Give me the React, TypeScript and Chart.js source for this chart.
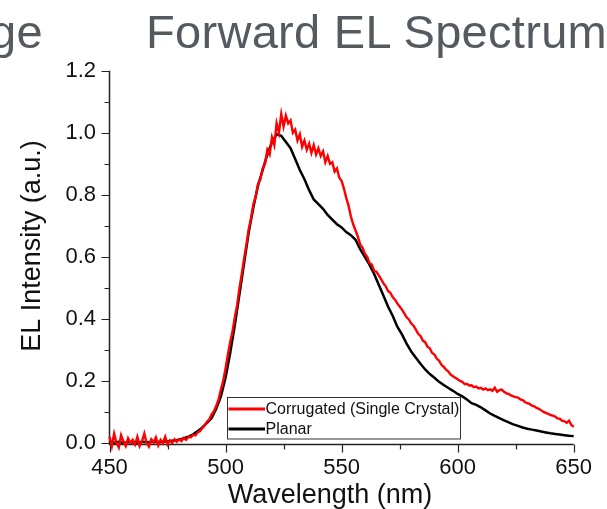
import React, { useEffect, useRef } from 'react';
import { Chart, registerables } from 'chart.js';

Chart.register(...registerables);

const FONT = "'Liberation Sans', Arial, Helvetica, sans-serif";

const chartTitle = 'Forward EL Spectrum';
const cutTitle = 'ge';
const xTitle = 'Wavelength (nm)';
const yTitle = 'EL Intensity (a.u.)';
const seriesLabels = ['Corrugated (Single Crystal)', 'Planar'];
const seriesColors = ['#ff0000', '#000000'];

const xMajorTicks = [450, 500, 550, 600, 650];
const xMinorTicks = [475, 525, 575, 625];
const yMajorTicks = [0, 0.2, 0.4, 0.6, 0.8, 1.0, 1.2];
const yMinorTicks = [0.1, 0.3, 0.5, 0.7, 0.9, 1.1];

// wavelength grid (nm)
const corrugatedWavelengths = Array.from({ length: 201 }, (_, i) => 450 + i);
const corrugated = [
  0.02, -0.01, 0.03, 0.0, -0.015, 0.025, 0.005, -0.01, 0.015, 0.0,
  0.01, -0.005, 0.02, -0.01, 0.005, 0.03, 0.0, -0.012, 0.012, 0.002,
  0.018, -0.008, 0.01, 0.0, 0.02, -0.005, 0.008, 0.0, 0.012, 0.004,
  0.012, 0.006, 0.016, 0.01, 0.02, 0.018, 0.026, 0.024, 0.034, 0.038,
  0.048, 0.056, 0.068, 0.076, 0.092, 0.102, 0.12, 0.14, 0.172, 0.2,
  0.24, 0.285, 0.325, 0.36, 0.405, 0.445, 0.5, 0.545, 0.595, 0.64,
  0.69, 0.725, 0.77, 0.795, 0.835, 0.85, 0.885, 0.9, 0.945, 0.93,
  0.985, 0.96, 1.03, 1.0, 1.06, 1.02, 1.055, 1.03, 1.04, 1.0,
  1.01, 0.975, 0.995, 0.955, 0.975, 0.945, 0.965, 0.935, 0.96, 0.93,
  0.95, 0.925, 0.94, 0.905, 0.925, 0.9, 0.905, 0.875, 0.885, 0.855,
  0.845, 0.82, 0.79, 0.765, 0.73, 0.705, 0.685, 0.665, 0.64, 0.63,
  0.61, 0.6, 0.58, 0.575, 0.555, 0.552, 0.54, 0.528, 0.515, 0.505,
  0.49, 0.484, 0.47, 0.462, 0.45, 0.44, 0.43, 0.418, 0.405, 0.398,
  0.385, 0.378, 0.365, 0.352, 0.345, 0.33, 0.325, 0.31, 0.305, 0.29,
  0.285, 0.272, 0.265, 0.252, 0.245, 0.236, 0.23, 0.22, 0.215, 0.21,
  0.205, 0.2, 0.197, 0.19, 0.19, 0.185, 0.186, 0.18, 0.182, 0.176,
  0.178, 0.172, 0.176, 0.17, 0.173, 0.168, 0.178, 0.165, 0.17, 0.172,
  0.165, 0.16, 0.158, 0.153, 0.15, 0.148, 0.146, 0.14, 0.138, 0.132,
  0.128, 0.126, 0.12, 0.118, 0.113, 0.11, 0.105, 0.1, 0.097, 0.094,
  0.09, 0.088, 0.085, 0.079, 0.078, 0.072, 0.07, 0.065, 0.072, 0.058,
  0.052,
];

const planarWavelengths = Array.from({ length: 101 }, (_, i) => 450 + 2 * i);
const planar = [
  0.003, 0.001, 0.004, 0.0, 0.002, 0.003, 0.001, 0.004, 0.002, 0.003,
  0.004, 0.003, 0.005, 0.006, 0.008, 0.01, 0.015, 0.02, 0.028, 0.038,
  0.05, 0.065, 0.08, 0.11, 0.15, 0.21, 0.29, 0.38, 0.48, 0.58,
  0.68, 0.76, 0.83, 0.88, 0.93, 0.97, 0.995, 0.99, 0.97, 0.95,
  0.915, 0.88, 0.85, 0.815, 0.785, 0.77, 0.755, 0.735, 0.72, 0.705,
  0.695, 0.68, 0.67, 0.655, 0.625, 0.6, 0.575, 0.545, 0.51, 0.475,
  0.44, 0.41, 0.375, 0.35, 0.32, 0.295, 0.275, 0.255, 0.237, 0.222,
  0.21, 0.197, 0.187, 0.177, 0.168, 0.158, 0.15, 0.14, 0.128, 0.123,
  0.115, 0.105, 0.095, 0.087, 0.08, 0.073, 0.066, 0.06, 0.055, 0.05,
  0.046, 0.043, 0.04, 0.037, 0.034, 0.031, 0.029, 0.027, 0.025, 0.023,
  0.022,
];

const axesPlugin = {
  id: 'customAxes',
  beforeDatasetsDraw(chart: any) {
    const { ctx, chartArea } = chart;
    const xs = chart.scales.x;
    const ys = chart.scales.y;
    ctx.save();
    ctx.strokeStyle = '#222';
    ctx.lineWidth = 1.5;
    ctx.beginPath();
    ctx.moveTo(chartArea.left, ys.getPixelForValue(1.2));
    ctx.lineTo(chartArea.left, chartArea.bottom);
    ctx.lineTo(xs.getPixelForValue(650), chartArea.bottom);
    ctx.stroke();
    ctx.lineWidth = 1.2;
    ctx.beginPath();
    yMajorTicks.forEach((v) => {
      const p = Math.round(ys.getPixelForValue(v)) + 0.5;
      ctx.moveTo(chartArea.left - 8, p);
      ctx.lineTo(chartArea.left, p);
    });
    yMinorTicks.forEach((v) => {
      const p = Math.round(ys.getPixelForValue(v)) + 0.5;
      ctx.moveTo(chartArea.left - 5, p);
      ctx.lineTo(chartArea.left, p);
    });
    xMajorTicks.forEach((v) => {
      const p = Math.round(xs.getPixelForValue(v)) + 0.5;
      ctx.moveTo(p, chartArea.bottom);
      ctx.lineTo(p, chartArea.bottom + 8);
    });
    xMinorTicks.forEach((v) => {
      const p = Math.round(xs.getPixelForValue(v)) + 0.5;
      ctx.moveTo(p, chartArea.bottom);
      ctx.lineTo(p, chartArea.bottom + 5);
    });
    ctx.stroke();

    // axis titles
    ctx.fillStyle = '#111';
    ctx.font = `27px ${FONT}`;
    ctx.textAlign = 'center';
    ctx.textBaseline = 'alphabetic';
    ctx.fillText(xTitle, 330, 503);
    ctx.translate(40, 246);
    ctx.rotate(-Math.PI / 2);
    ctx.fillText(yTitle, 0, 0);
    ctx.restore();
  },
  afterDatasetsDraw(chart: any) {
    const { ctx } = chart;
    ctx.save();
    const bx = 227.5, by = 397.5, bw = 233, bh = 41.5;
    ctx.fillStyle = '#fff';
    ctx.fillRect(bx, by, bw, bh);
    ctx.strokeStyle = '#333';
    ctx.lineWidth = 1;
    ctx.strokeRect(bx, by, bw, bh);
    const rows = [409, 429];
    ctx.font = `16px ${FONT}`;
    ctx.textAlign = 'left';
    ctx.textBaseline = 'middle';
    seriesLabels.forEach((lab, i) => {
      ctx.strokeStyle = seriesColors[i];
      ctx.lineWidth = 3;
      ctx.beginPath();
      ctx.moveTo(bx + 1, rows[i]);
      ctx.lineTo(265, rows[i]);
      ctx.stroke();
      ctx.fillStyle = '#111';
      ctx.fillText(lab, 265.5, rows[i] + 0.5);
    });
    ctx.restore();
  },
};

export default function App() {
  const ref = useRef<HTMLCanvasElement | null>(null);
  useEffect(() => {
    if (!ref.current) return;
    Chart.defaults.font.family = FONT;
    const chart = new Chart(ref.current, {
      type: 'line',
      data: {
        datasets: [
          {
            label: seriesLabels[0],
            data: corrugatedWavelengths.map((x, i) => ({ x, y: corrugated[i] })),
            borderColor: seriesColors[0],
            borderWidth: 2.4,
            pointRadius: 0,
            tension: 0,
            clip: false as any,
          },
          {
            label: seriesLabels[1],
            data: planarWavelengths.map((x, i) => ({ x, y: planar[i] })),
            borderColor: seriesColors[1],
            borderWidth: 2.5,
            pointRadius: 0,
            tension: 0,
            clip: false as any,
          },
        ],
      },
      plugins: [axesPlugin],
      options: {
        responsive: false,
        animation: false,
        devicePixelRatio: 1,
        layout: { padding: { top: 70.7, right: 33.3, left: 0, bottom: 0 } },
        plugins: {
          legend: { display: false },
          tooltip: { enabled: false },
          title: { display: false },
        },
        scales: {
          x: {
            type: 'linear',
            min: 450,
            max: 650,
            grid: { display: false, drawTicks: false },
            border: { display: false },
            afterFit: (s: any) => { s.height = 64.5; },
            afterBuildTicks: (s: any) => { s.ticks = xMajorTicks.map((v) => ({ value: v })); },
            ticks: {
              padding: 10.6,
              color: '#111',
              font: { size: 22, family: FONT },
              maxRotation: 0,
              callback: (v: any) => String(v),
            },
          },
          y: {
            type: 'linear',
            min: -0.005,
            max: 1.2,
            grid: { display: false, drawTicks: false },
            border: { display: false },
            afterFit: (s: any) => { s.width = 109.5; },
            afterBuildTicks: (s: any) => { s.ticks = yMajorTicks.map((v) => ({ value: v })); },
            ticks: {
              padding: 13.5,
              color: '#111',
              font: { size: 22, family: FONT },
              callback: (v: any) => Number(v).toFixed(1),
            },
          },
        },
      },
    });
    return () => chart.destroy();
  }, []);

  const titleStyle: React.CSSProperties = {
    position: 'absolute',
    top: 8,
    fontFamily: FONT,
    fontSize: 47,
    lineHeight: '47px',
    letterSpacing: '0.3px',
    color: '#555a60',
    whiteSpace: 'nowrap',
    margin: 0,
  };

  return (
    <div style={{ position: 'fixed', left: 0, top: 0, width: 607, height: 509, overflow: 'hidden', background: '#fff' }}>
      <canvas ref={ref} width={607} height={509} style={{ position: 'absolute', left: 0, top: 0, width: 607, height: 509 }} />
      <div style={{ ...titleStyle, left: -10 }}>{cutTitle}</div>
      <div style={{ ...titleStyle, left: 146 }}>{chartTitle}</div>
    </div>
  );
}
